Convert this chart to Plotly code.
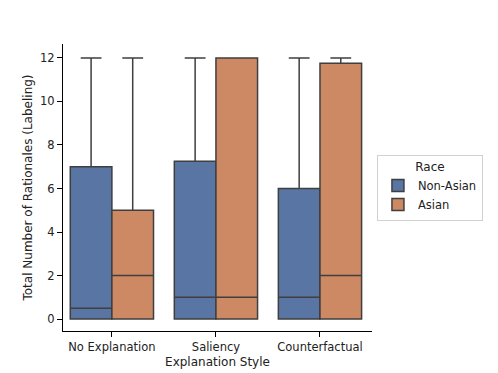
import plotly.graph_objects as go

styles = ['No Explanation', 'Saliency', 'Counterfactual']

# box stats: (non-asian, asian)
non_asian_q1 = [0, 0, 0]
non_asian_median = [0.5, 1, 1]
non_asian_q3 = [7, 7.25, 6]
non_asian_low = [0, 0, 0]
non_asian_high = [12, 12, 12]

asian_q1 = [0, 0, 0]
asian_median = [2, 1, 2]
asian_q3 = [5, 12, 11.75]
asian_low = [0, 0, 0]
asian_high = [12, 12, 12]

y_ticks = [0, 2, 4, 6, 8, 10, 12]

line_color = '#3f3f3f'
font = dict(family='DejaVu Sans', size=11.5, color='#222222')

fig = go.Figure()

fig.add_trace(go.Box(
    name='Non-Asian',
    x=styles,
    q1=non_asian_q1,
    median=non_asian_median,
    q3=non_asian_q3,
    lowerfence=non_asian_low,
    upperfence=non_asian_high,
    fillcolor='#5975a4',
    line=dict(color=line_color, width=1.5),
    whiskerwidth=0.5,
    boxpoints=False,
    offsetgroup='a'
))

fig.add_trace(go.Box(
    name='Asian',
    x=styles,
    q1=asian_q1,
    median=asian_median,
    q3=asian_q3,
    lowerfence=asian_low,
    upperfence=asian_high,
    fillcolor='#cc8963',
    line=dict(color=line_color, width=1.5),
    whiskerwidth=0.5,
    boxpoints=False,
    offsetgroup='b'
))

# page body has an 8px margin, so the figure is a bit smaller and shifted
fig.update_layout(
    width=490,
    height=365,
    margin=dict(l=55, r=126, t=36, b=42),
    plot_bgcolor='white',
    paper_bgcolor='white',
    font=font,
    boxmode='group',
    boxgap=0.2,
    boxgroupgap=0,
    showlegend=True,
    legend=dict(
        title=dict(text='Race', side='top center', font=dict(size=12)),
        x=1.016,
        xanchor='left',
        y=0.5,
        yanchor='middle',
        bordercolor='#d0d0d0',
        borderwidth=1,
        font=dict(size=11.5),
        itemwidth=30,
        tracegroupgap=0
    ),
    xaxis=dict(
        title=dict(text='Explanation Style', font=dict(size=12), standoff=4),
        automargin=False,
        range=[-0.47, 2.5],
        showline=True,
        linecolor='black',
        linewidth=1.2,
        ticks='outside',
        ticklen=5,
        tickcolor='black',
        showgrid=False,
        zeroline=False
    ),
    yaxis=dict(
        title=dict(text='Total Number of Rationales (Labeling)', font=dict(size=12), standoff=4),
        automargin=False,
        range=[-0.55, 12.64],
        tickvals=y_ticks,
        showline=True,
        linecolor='black',
        linewidth=1.2,
        ticks='outside',
        ticklen=5,
        tickcolor='black',
        showgrid=False,
        zeroline=False
    )
)

fig.write_html('out.html')
